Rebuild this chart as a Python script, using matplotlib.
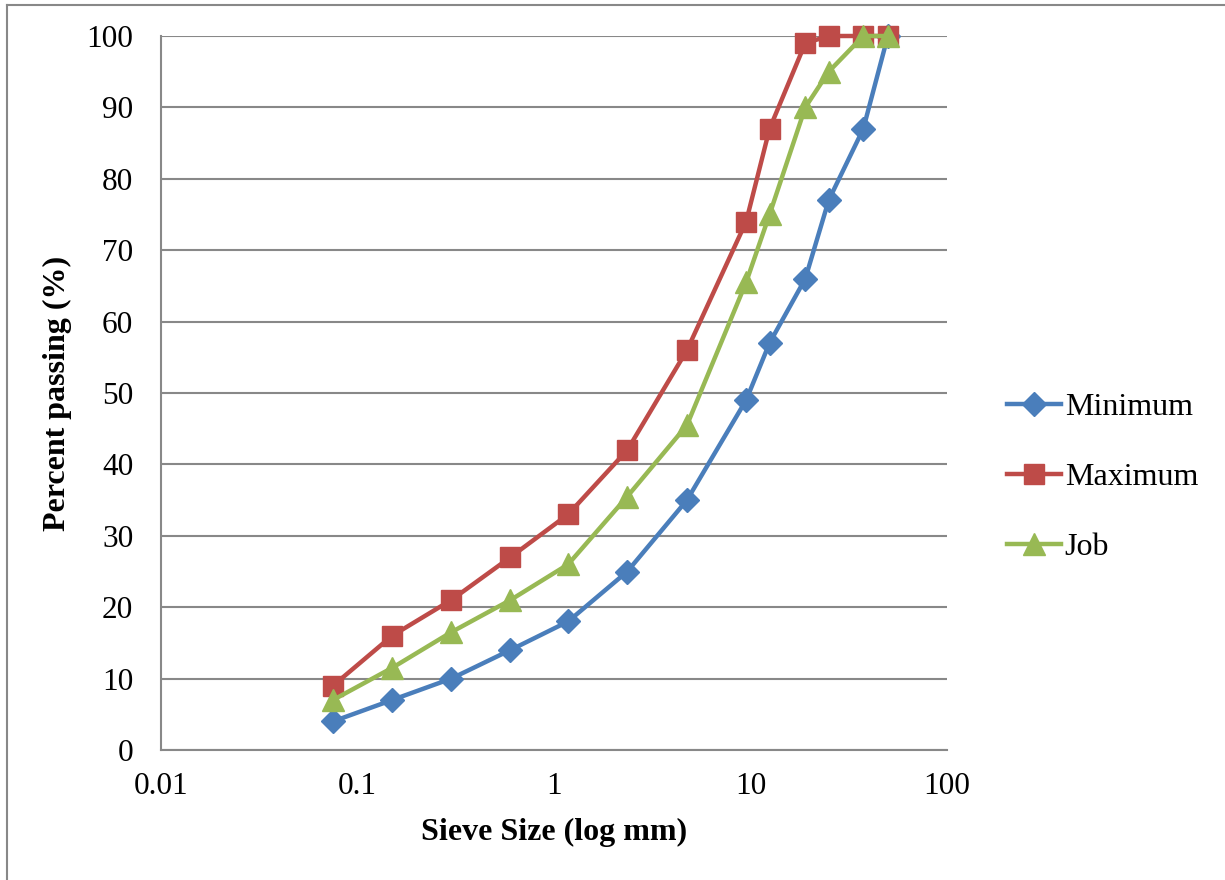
import matplotlib
matplotlib.use("Agg")
import matplotlib.pyplot as plt
from matplotlib.lines import Line2D

# Sieve sizes (mm) and percent passing for each gradation
sieve = [0.075, 0.15, 0.3, 0.6, 1.18, 2.36, 4.75, 9.5, 12.5, 19, 25, 37.5, 50]
minimum = [4, 7, 10, 14, 18, 25, 35, 49, 57, 66, 77, 87, 100]
maximum = [9, 16, 21, 27, 33, 42, 56, 74, 87, 99, 100, 100, 100]
job = [7, 11.5, 16.5, 21, 26, 35.5, 45.5, 65.5, 75, 90, 95, 100, 100]

series = [("Minimum", minimum, "#4A7EBB", "D", 12),
          ("Maximum", maximum, "#BE4B48", "s", 14),
          ("Job", job, "#98B954", "^", 16)]

plt.rcParams['font.family'] = ['Liberation Serif', 'DejaVu Serif']

fig = plt.figure(figsize=(12.25, 8.8), dpi=100)
ax = fig.add_axes([161/1225, 1 - 750/880, (947 - 161)/1225, (750 - 36)/880])

for name, vals, col, mk, ms in series:
    ax.plot(sieve, vals, color=col, lw=3.2, marker=mk, markersize=ms,
            markeredgecolor=col, label=name, clip_on=False, zorder=3)

ax.set_xscale("log")
ax.set_xlim(0.01, 100)
ax.set_ylim(0, 100)
ax.set_yticks(range(0, 101, 10))
ax.set_xticks([0.01, 0.1, 1, 10, 100])
ax.set_xticklabels(["0.01", "0.1", "1", "10", "100"])
ax.minorticks_off()
ax.tick_params(labelsize=22.5, length=0)
ax.tick_params(axis='y', pad=20)
ax.tick_params(axis='x', pad=16)
ax.yaxis.grid(True, color="#888888", lw=1.5)
ax.set_axisbelow(True)
for s in ["top", "right"]:
    ax.spines[s].set_visible(False)
for s in ["left", "bottom"]:
    ax.spines[s].set_color("#888888")
    ax.spines[s].set_linewidth(1.5)

ax.set_xlabel("Sieve Size (log mm)", fontsize=23, fontweight="bold", labelpad=12)
ax.set_ylabel("Percent passing (%)", fontsize=23, fontweight="bold", labelpad=10)

leg = ax.legend(loc="center left", bbox_to_anchor=(1.04, 0.382), frameon=False,
                fontsize=23, handlelength=1.7, handletextpad=0.1, labelspacing=1.27)

# outer chart border (left and top edges visible)
fig.add_artist(Line2D([7/1225, 7/1225], [0, 1 - 5/880], color="#888888", lw=1.5))
fig.add_artist(Line2D([7/1225, 1], [1 - 5/880, 1 - 5/880], color="#888888", lw=1.5))

fig.savefig("out.png", dpi=100)
